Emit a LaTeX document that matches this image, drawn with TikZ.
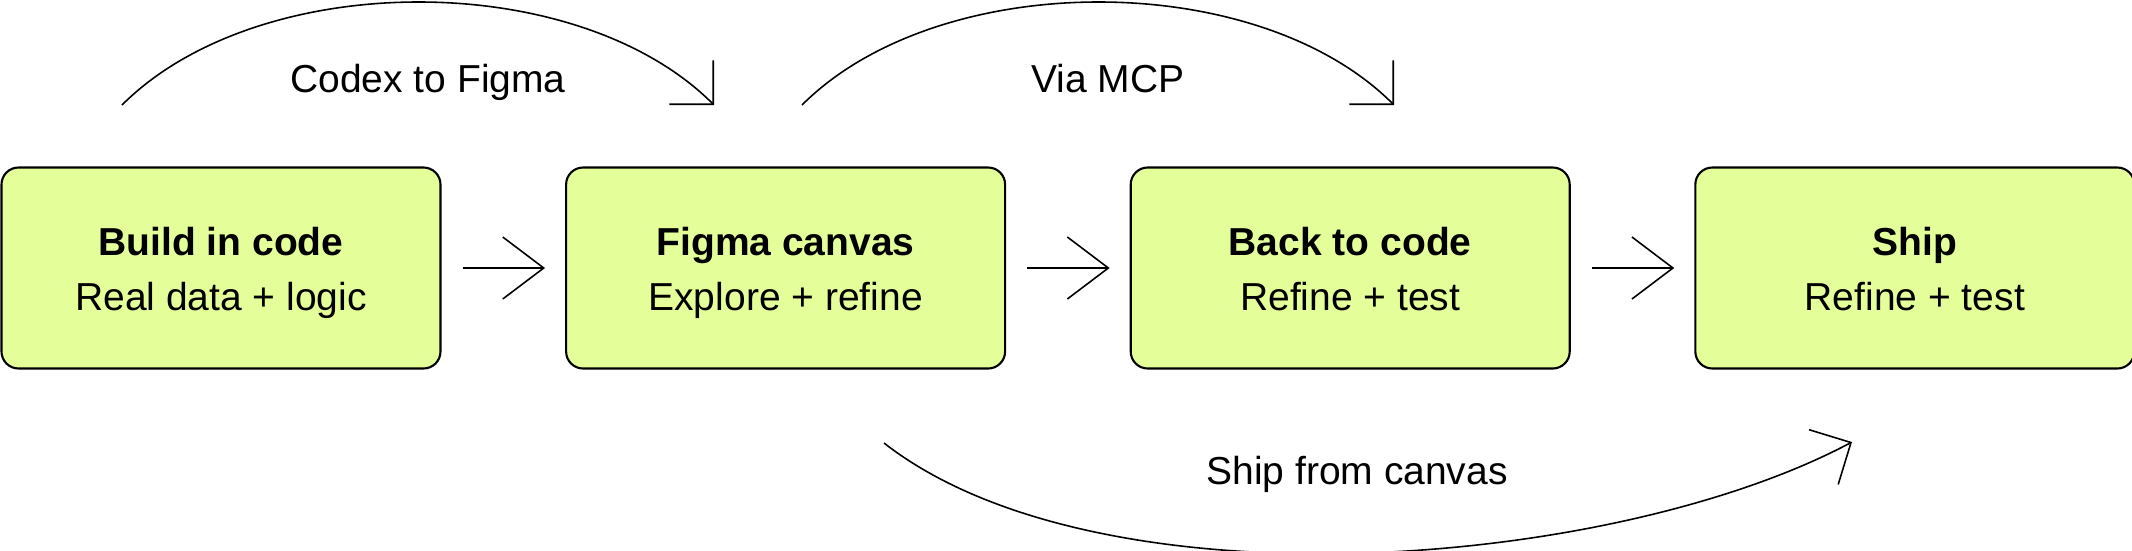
\documentclass[tikz,border=0pt]{standalone}
\usepackage{fontspec}
\setmainfont{Liberation Sans}
\usepackage{xcolor}
\usepackage{tikz}
\usetikzlibrary{arrows.meta, positioning}

\definecolor{limefill}{HTML}{E4FE9A}
\newcommand{\topstrut}{\rule{0pt}{0.40cm}}
\newcommand{\botstrut}{\rule[-0.11cm]{0pt}{0.11cm}}

\begin{document}
\begin{tikzpicture}[
            font=\fontsize{11.1}{15.65}\selectfont,
            stage/.style={rectangle, rounded corners=0.17cm, draw, line width=0.6pt, fill=limefill,
                minimum width=4.39cm, minimum height=2.01cm, align=center},
            flowarrow/.style={-{Straight Barb[length=0.41cm, width=0.62cm]}, line width=0.45pt,
                shorten <=0.21cm, shorten >=0.2cm},
            curvearrow/.style={-{Straight Barb[length=0.31cm, width=0.62cm]}, line width=0.45pt}
        ]
        \useasboundingbox (0,0) rectangle (21.32,5.5);

        % Stages
        \node[stage] (build) at (2.21,2.82) {\topstrut\textbf{Build in code}\\Real data + logic\botstrut};
        \node[stage, right=1.235cm of build] (figma) {\topstrut\textbf{Figma canvas}\\Explore + refine\botstrut};
        \node[stage, right=1.235cm of figma] (back) {\topstrut\textbf{Back to code}\\Refine + test\botstrut};
        \node[stage, right=1.235cm of back] (ship) {\topstrut\textbf{Ship}\\Refine + test\botstrut};

        % Main flow
        \draw[flowarrow] (build) -- (figma);
        \draw[flowarrow] (figma) -- (back);
        \draw[flowarrow] (back) -- (ship);

        % Arc ends
        \coordinate (codexstart) at (1.22,4.45);
        \coordinate (codexend) at (7.14,4.45);
        \coordinate (mcpstart) at (8.02,4.45);
        \coordinate (mcpend) at (13.94,4.45);
        \coordinate (shipstart) at (8.84,1.07);
        \coordinate (shipend) at (18.52,1.08);

        % Round trips
        \draw[curvearrow] (codexstart) to[out=45, in=135, looseness=0.84] (codexend);
        \draw[curvearrow] (mcpstart) to[out=45, in=135, looseness=0.84] (mcpend);
        \draw[curvearrow] (shipstart) to[out=-38, in=-152, looseness=0.72] (shipend);

        % Labels
        \node[anchor=base] (codexlbl) at (4.28,4.58) {Codex to Figma};
        \node[anchor=base] (mcplbl) at (11.08,4.58) {Via MCP};
        \node[anchor=base] (shiplbl) at (13.57,0.66) {Ship from canvas};

    \end{tikzpicture}
\end{document}
